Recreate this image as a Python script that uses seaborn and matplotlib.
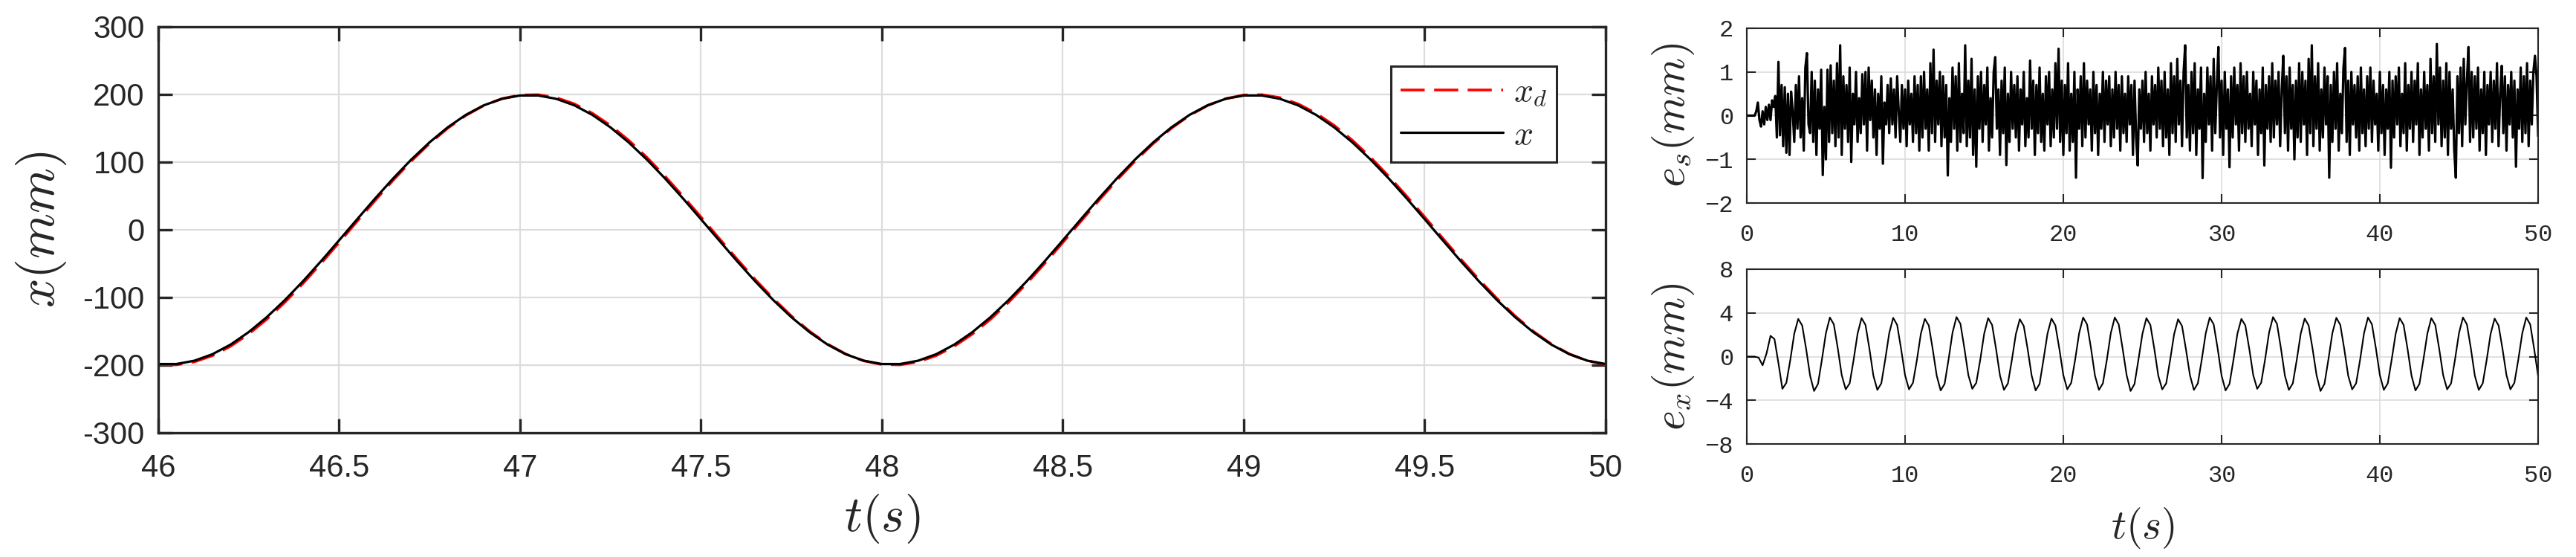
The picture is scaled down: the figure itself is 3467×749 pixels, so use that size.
import matplotlib
matplotlib.use("Agg")
import matplotlib.pyplot as plt
import numpy as np
import seaborn as sns

# ---- zoomed window, 46 s to 50 s (sampled every 0.05 s) ----
x_desired = [
    -199.1, -199.6, -195.2, -186.0, -172.1, -154.1, -132.3, -107.2, -79.4, -49.7,
    -18.8, 12.6, 43.6, 73.6, 101.8, 127.5, 150.0, 168.9, 183.6, 193.7,
    199.1, 199.6, 195.2, 186.0, 172.1, 154.1, 132.3, 107.2, 79.4, 49.7,
    18.8, -12.6, -43.6, -73.6, -101.8, -127.5, -150.0, -168.9, -183.6, -193.7,
    -199.1, -199.6, -195.2, -186.0, -172.1, -154.1, -132.3, -107.2, -79.4, -49.7,
    -18.8, 12.6, 43.6, 73.6, 101.8, 127.5, 150.0, 168.9, 183.6, 193.7,
    199.1, 199.6, 195.2, 186.0, 172.1, 154.1, 132.3, 107.2, 79.4, 49.7,
    18.8, -12.6, -43.6, -73.6, -101.8, -127.5, -150.0, -168.9, -183.6, -193.7,
    -199.1,
]
x_actual = [
    -198.4, -198.4, -193.5, -183.9, -169.7, -151.3, -129.2, -104.0, -76.2, -46.5,
    -15.6, 15.6, 46.5, 76.2, 104.0, 129.2, 151.3, 169.7, 183.9, 193.5,
    198.4, 198.4, 193.5, 183.9, 169.7, 151.3, 129.2, 104.0, 76.2, 46.5,
    15.6, -15.6, -46.5, -76.2, -104.0, -129.2, -151.3, -169.7, -183.9, -193.5,
    -198.4, -198.4, -193.5, -183.9, -169.7, -151.3, -129.2, -104.0, -76.2, -46.5,
    -15.6, 15.6, 46.5, 76.2, 104.0, 129.2, 151.3, 169.7, 183.9, 193.5,
    198.4, 198.4, 193.5, 183.9, 169.7, 151.3, 129.2, 104.0, 76.2, 46.5,
    15.6, -15.6, -46.5, -76.2, -104.0, -129.2, -151.3, -169.7, -183.9, -193.5,
    -198.4,
]
t_zoom = np.linspace(46, 50, len(x_desired))

# ---- sensor error over the whole run, every 0.1 s ----
e_s = [
    0, 0, 0, 0, 0, 0, 0.1, 0.3, -0.1, -0.25,
    0.1, -0.2, 0.2, -0.1, 0.25, -0.1, 0.35, 0.2, 0.45, -0.5,
    1.23, -0.45, 0.7, -0.7, 0.65, -0.85, 0.5, -0.9, 0.55, 0.1,
    -0.6, 0.7, -0.3, 0.9, -0.5, 0.4, -0.8, 1.1, 1.43, -0.2,
    -0.4, 1.0, -0.6, 0.8, -0.9, 0.6, -0.3, 1.05, -1.36, 0.2,
    -1.0, 1.05, -0.6, 1.15, -0.4, 0.8, -0.7, 1.2, -0.5, 1.61,
    -0.9, 0.9, -0.3, 0.7, -0.6, 1.1, -1.06, 0.5, -0.2, 1.0,
    -0.6, 0.4, -0.4, 0.95, -0.2, 1.0, -0.8, 1.1, -0.1, 0.8,
    -0.5, 0.6, -0.9, 0.5, -0.3, 0.9, -1.1, 0.3, -0.2, 0.7,
    -0.4, 0.85, -0.2, 0.6, -0.5, 0.9, 0.1, -0.6, 0.7, -0.3,
    0.6, -0.7, 0.8, -0.2, 0.5, -0.6, 0.9, -0.4, 0.7, -0.8,
    0.9, -0.5, 1.0, -0.3, 0.6, -0.8, 1.2, -0.4, 1.51, -0.6,
    0.8, -0.2, 1.0, -0.7, 0.9, -0.5, 0.7, -1.37, 0.4, -0.6,
    1.1, -0.3, 0.9, -0.8, 1.2, -0.6, 0.5, -0.4, 1.61, -0.7,
    0.8, -0.5, 1.3, -0.9, 0.6, -1.17, 0.9, -0.3, 1.0, -0.6,
    0.7, -0.2, 1.1, -0.8, 0.4, -0.5, 1.0, 1.34, -0.3, 0.6,
    -0.9, 0.8, -0.4, 1.1, -1.13, 0.5, -0.6, 1.0, -0.3, 0.7,
    -0.5, 0.9, -0.8, 0.6, -0.2, 1.0, -0.7, 0.4, -0.5, 1.26,
    -0.3, 0.8, -0.9, 0.7, -0.4, 1.1, -0.6, 0.5, -0.8, 0.9,
    -0.2, 1.0, -0.7, 0.6, -0.5, 1.2, -0.3, 1.53, -0.6, 0.8,
    -0.9, 0.7, -0.4, 1.2, -0.8, 0.5, -0.6, 1.0, -1.42, 0.6,
    -0.3, 0.9, -0.7, 1.2, -0.5, 0.8, -0.2, 0.6, -0.8, 1.0,
    -0.4, 0.7, -0.9, 0.5, -0.3, 1.0, -0.6, 0.8, -0.2, 0.9,
    -0.7, 0.6, -0.5, 1.0, -0.3, 0.7, -0.8, 0.9, -0.4, 0.5,
    -0.6, 0.9, -0.2, 0.7, -0.9, 0.8, -0.5, -1.14, 0.6, -0.3,
    0.8, -0.6, 1.0, -0.4, 0.5, -0.8, 0.9, -0.2, 0.7, -0.5,
    1.1, -0.3, 0.8, -0.7, 1.0, -0.5, 0.6, -0.9, 1.2, -0.4,
    0.9, -0.6, 1.3, -0.2, 0.8, -0.7, 1.0, 1.61, -0.5, 0.7,
    -0.8, 1.0, -0.4, 1.2, -0.9, 0.6, -0.3, 1.1, -1.43, 0.5,
    -0.6, 1.1, -0.2, 0.9, -0.8, 1.3, -0.4, 0.7, 1.57, -0.5,
    0.8, -0.9, 1.0, -0.3, 0.6, -1.18, 0.9, -0.5, 1.1, -0.2,
    0.7, -0.8, 1.2, -0.4, 0.9, -0.6, 1.0, -0.3, 0.5, -0.7,
    1.0, -0.2, 0.8, -0.9, 0.6, -0.4, 1.1, -1.14, 0.7, -0.3,
    0.9, -0.6, 1.2, -0.5, 0.8, -0.2, 1.0, -0.7, 0.6, 1.37,
    -0.4, 0.9, -0.8, 1.1, -0.3, 0.7, -1.0, 0.8, -0.5, 1.2,
    -0.6, 1.0, -0.2, 0.8, -0.9, 1.3, -0.4, 1.61, -0.7, 0.9,
    -0.3, 1.2, -0.8, 0.6, -0.5, 1.1, -0.2, 0.9, -1.42, 0.7,
    -0.6, 1.0, -0.3, 1.2, -0.8, 0.5, -0.4, 1.1, 1.55, -0.6,
    0.8, -0.9, 1.0, -0.2, 0.7, -0.5, 0.9, -0.8, 1.1, -0.4,
    0.6, -0.7, 0.9, -0.3, 1.1, -0.6, 0.8, -0.2, 0.5, -0.8,
    1.0, -0.4, 0.7, -0.9, 0.6, -0.3, 1.0, -1.19, 0.8, -0.5,
    0.9, -0.2, 1.1, -0.7, 0.5, -0.4, 1.2, -0.8, 0.7, -0.3,
    1.0, -0.6, 0.8, -0.2, 1.2, -0.9, 0.6, -0.5, 1.0, -0.3,
    0.7, -0.8, 1.3, -0.4, 0.9, -0.6, 1.64, -0.2, 1.1, -0.7,
    0.8, -0.5, 1.2, -0.9, 1.0, -0.3, 0.6, -0.8, -1.42, 0.9,
    -0.4, 1.1, -0.7, 1.3, -0.2, 0.8, 1.57, -0.6, 1.0, -0.5,
    0.9, -0.3, 1.1, -0.8, 0.6, -0.4, 1.0, -0.9, 0.7, -0.2,
    1.0, -0.6, 0.8, -0.3, 1.2, -0.7, 0.5, 1.14, -0.4, 0.9,
    -0.8, 0.7, -0.2, 1.0, -0.5, 0.8, -1.17, 0.6, -0.3, 1.1,
    -0.6, 0.9, -0.4, 1.2, -0.7, 0.8, -0.2, 1.0, 1.37, 0.9,
    -0.47,
]
t_es = np.linspace(0, 50, len(e_s))

# ---- tracking error over the whole run, every 0.25 s ----
e_x = [
    0, 0, 0, -0.1, -0.8, 0.3, 1.9, 1.6, -0.6,
    -2.95, -2.40, -0.30, 2.10, 3.45, 2.85, 0.70, -1.75,
    -3.15, -2.50, -0.25, 2.15, 3.58, 2.95, 0.75, -1.70,
    -3.00, -2.45, -0.30, 2.10, 3.52, 2.90, 0.70, -1.75,
    -3.05, -2.45, -0.25, 2.15, 3.55, 2.90, 0.70, -1.70,
    -3.00, -2.40, -0.30, 2.10, 3.45, 2.85, 0.65, -1.75,
    -3.10, -2.50, -0.25, 2.20, 3.62, 3.00, 0.75, -1.70,
    -2.95, -2.40, -0.30, 2.10, 3.52, 2.90, 0.70, -1.75,
    -3.05, -2.45, -0.30, 2.05, 3.42, 2.80, 0.65, -1.75,
    -3.10, -2.50, -0.25, 2.10, 3.48, 2.85, 0.70, -1.70,
    -3.00, -2.40, -0.25, 2.15, 3.58, 2.95, 0.75, -1.75,
    -3.05, -2.45, -0.30, 2.15, 3.58, 2.95, 0.70, -1.70,
    -3.15, -2.50, -0.25, 2.10, 3.52, 2.90, 0.70, -1.75,
    -3.00, -2.45, -0.30, 2.05, 3.42, 2.80, 0.65, -1.70,
    -3.05, -2.45, -0.25, 2.15, 3.58, 2.95, 0.75, -1.75,
    -3.10, -2.50, -0.30, 2.10, 3.45, 2.85, 0.70, -1.70,
    -2.95, -2.40, -0.25, 2.20, 3.62, 3.00, 0.75, -1.75,
    -3.05, -2.45, -0.30, 2.10, 3.48, 2.85, 0.70, -1.70,
    -3.15, -2.50, -0.25, 2.15, 3.55, 2.90, 0.70, -1.75,
    -3.00, -2.45, -0.30, 2.15, 3.58, 2.95, 0.75, -1.70,
    -3.05, -2.45, -0.25, 2.10, 3.52, 2.90, 0.70, -1.75,
    -3.10, -2.50, -0.30, 2.10, 3.52, 2.90, 0.70, -1.70,
    -3.00, -2.45, -0.25, 2.15, 3.58, 2.95, 0.75, -1.75,
    -3.05, -2.45, -0.30, 2.10, 3.48, 2.85, 0.70, -1.70,
    -3.00, -2.40, -0.25, 2.15, 3.58, 2.95, 0.70, -1.80,
]
t_ex = np.linspace(0, 50, len(e_x))

# ticks and labels
zoom_xticks = [46, 46.5, 47, 47.5, 48, 48.5, 49, 49.5, 50]
zoom_xlabels = ["46", "46.5", "47", "47.5", "48", "48.5", "49", "49.5", "50"]
zoom_yticks = [-300, -200, -100, 0, 100, 200, 300]
zoom_ylabels = ["-300", "-200", "-100", "0", "100", "200", "300"]
full_xticks = [0, 10, 20, 30, 40, 50]
full_xlabels = ["0", "10", "20", "30", "40", "50"]
es_yticks = [-2, -1, 0, 1, 2]
es_ylabels = ["\u22122", "\u22121", "0", "1", "2"]
ex_yticks = [-8, -4, 0, 4, 8]
ex_ylabels = ["\u22128", "\u22124", "0", "4", "8"]

sns.set_theme(style="white")
plt.rcParams["font.family"] = ["Liberation Sans", "DejaVu Sans"]
plt.rcParams["mathtext.fontset"] = "cm"

SPINE = "#262626"
GRID = "#dcdcdc"


def matlab_box(ax, lw, tick_len, grid_lw, label_size, family, xpad, ypad):
    for sp in ax.spines.values():
        sp.set_visible(True)
        sp.set_linewidth(lw)
        sp.set_color(SPINE)
    ax.tick_params(axis="both", direction="in", bottom=True, left=True,
                   top=True, right=True, length=tick_len, width=lw,
                   color=SPINE, labelcolor=SPINE, labelsize=label_size,
                   labelfontfamily=family)
    ax.tick_params(axis="x", pad=xpad)
    ax.tick_params(axis="y", pad=ypad)
    ax.grid(True, color=GRID, linewidth=grid_lw)
    ax.set_axisbelow(True)


fig = plt.figure(figsize=(34.67, 7.49), dpi=100)

# ---- left: desired vs actual position ----
ax = fig.add_axes([0.0614, 0.2230, 0.5619, 0.7290])
sns.lineplot(x=t_zoom, y=x_desired, ax=ax, color="red", linewidth=2.6,
             linestyle=(0, (9, 3.5)), label=r"$x_d$", estimator=None)
sns.lineplot(x=t_zoom, y=x_actual, ax=ax, color="black", linewidth=2.3,
             label=r"$x$", estimator=None)
ax.set_xlim(46, 50)
ax.set_ylim(-300, 300)
ax.set_xticks(zoom_xticks)
ax.set_xticklabels(zoom_xlabels)
ax.set_yticks(zoom_yticks)
ax.set_yticklabels(zoom_ylabels)
matlab_box(ax, 2.4, 14, 1.6, 30, "Liberation Sans", 20, 13)
ax.set_xlabel(r"$t(s)$", fontsize=48, color=SPINE)
ax.xaxis.set_label_coords(0.5, -0.147)
ax.xaxis.label.set_va("top")
ax.set_ylabel(r"$x(mm)$", fontsize=50, color=SPINE)
ax.yaxis.set_label_coords(-0.062, 0.5)
leg = ax.legend(loc="upper right", bbox_to_anchor=(0.978, 0.945), fontsize=33,
                frameon=True, fancybox=False, edgecolor=SPINE, framealpha=1,
                handlelength=3.0, handletextpad=0.3, borderpad=0.3,
                labelspacing=0.3)
leg.get_frame().set_linewidth(2.2)

# ---- right top: e_s ----
ax1 = fig.add_axes([0.6781, 0.6355, 0.3072, 0.3138])
sns.lineplot(x=t_es, y=e_s, ax=ax1, color="black", linewidth=2.3,
             estimator=None, legend=False)
ax1.set_xlim(0, 50)
ax1.set_ylim(-2, 2)
ax1.set_xticks(full_xticks)
ax1.set_xticklabels(full_xlabels)
ax1.set_yticks(es_yticks)
ax1.set_yticklabels(es_ylabels)
matlab_box(ax1, 1.5, 8.5, 1.2, 23, "Liberation Mono", 20, 13)
ax1.set_ylabel(r"$e_s(mm)$", fontsize=42, color=SPINE)
ax1.yaxis.set_label_coords(-0.064, 0.5)

# ---- right bottom: e_x ----
ax2 = fig.add_axes([0.6781, 0.2029, 0.3072, 0.3138])
sns.lineplot(x=t_ex, y=e_x, ax=ax2, color="black", linewidth=1.5,
             estimator=None, legend=False)
ax2.set_xlim(0, 50)
ax2.set_ylim(-8, 8)
ax2.set_xticks(full_xticks)
ax2.set_xticklabels(full_xlabels)
ax2.set_yticks(ex_yticks)
ax2.set_yticklabels(ex_ylabels)
matlab_box(ax2, 1.5, 8.5, 1.2, 23, "Liberation Mono", 20, 13)
ax2.set_ylabel(r"$e_x(mm)$", fontsize=42, color=SPINE)
ax2.yaxis.set_label_coords(-0.064, 0.5)
ax2.set_xlabel(r"$t(s)$", fontsize=40, color=SPINE)
ax2.xaxis.set_label_coords(0.5, -0.353)
ax2.xaxis.label.set_va("top")

fig.savefig("out.png", dpi=100)
